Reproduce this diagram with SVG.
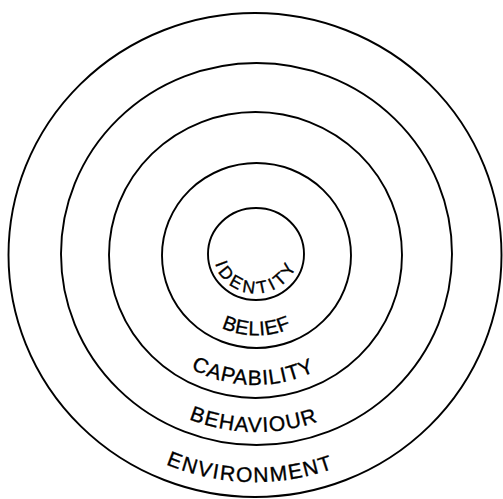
<svg xmlns="http://www.w3.org/2000/svg" width="503" height="499" viewBox="0 0 503 499">
<style>
.ring{fill:none;stroke:#000;stroke-width:1.9}
.lbl{font-family:"Liberation Sans",Arial,sans-serif;font-size:21px;fill:#000;stroke:#000;stroke-width:0.35}
</style>
<defs>
<path id="pId" d="M 214 254 A 42 39.5 0 0 0 298 254"/>
<path id="pBe" d="M 174.5 255.5 A 82 80 0 0 0 338.5 255.5"/>
<path id="pCa" d="M 122.5 255 A 133 130 0 0 0 388.5 255"/>
<path id="pBh" d="M 75.5 255 A 181 177 0 0 0 437.5 255"/>
<path id="pEn" d="M 24 255 A 231 227 0 0 0 486 255"/>
</defs>
<rect width="503" height="499" fill="#fff"/>
<g id="environment">
<ellipse class="ring" cx="255" cy="255" rx="246.5" ry="242"/>
<text class="lbl" letter-spacing="1.6"><textPath href="#pEn" startOffset="49.3%" text-anchor="middle">ENVIRONMENT</textPath></text>
</g>
<g id="behaviour">
<ellipse class="ring" cx="256.5" cy="254" rx="195.5" ry="191"/>
<text class="lbl" letter-spacing="1.2"><textPath href="#pBh" startOffset="49.5%" text-anchor="middle">BEHAVIOUR</textPath></text>
</g>
<g id="capability">
<ellipse class="ring" cx="255.5" cy="255" rx="146.5" ry="143"/>
<text class="lbl" letter-spacing="1"><textPath href="#pCa" startOffset="49.4%" text-anchor="middle">CAPABILITY</textPath></text>
</g>
<g id="belief">
<ellipse class="ring" cx="256.5" cy="255.5" rx="94.5" ry="92.5"/>
<text class="lbl" style="font-size:20px" letter-spacing="0.6"><textPath href="#pBe" startOffset="50%" text-anchor="middle">BELIEF</textPath></text>
</g>
<g id="identity">
<ellipse class="ring" cx="256" cy="254" rx="48" ry="46"/>
<text class="lbl" style="font-size:17.5px" letter-spacing="3.6"><textPath href="#pId" startOffset="50%" text-anchor="middle">IDENTITY</textPath></text>
</g>
</svg>
